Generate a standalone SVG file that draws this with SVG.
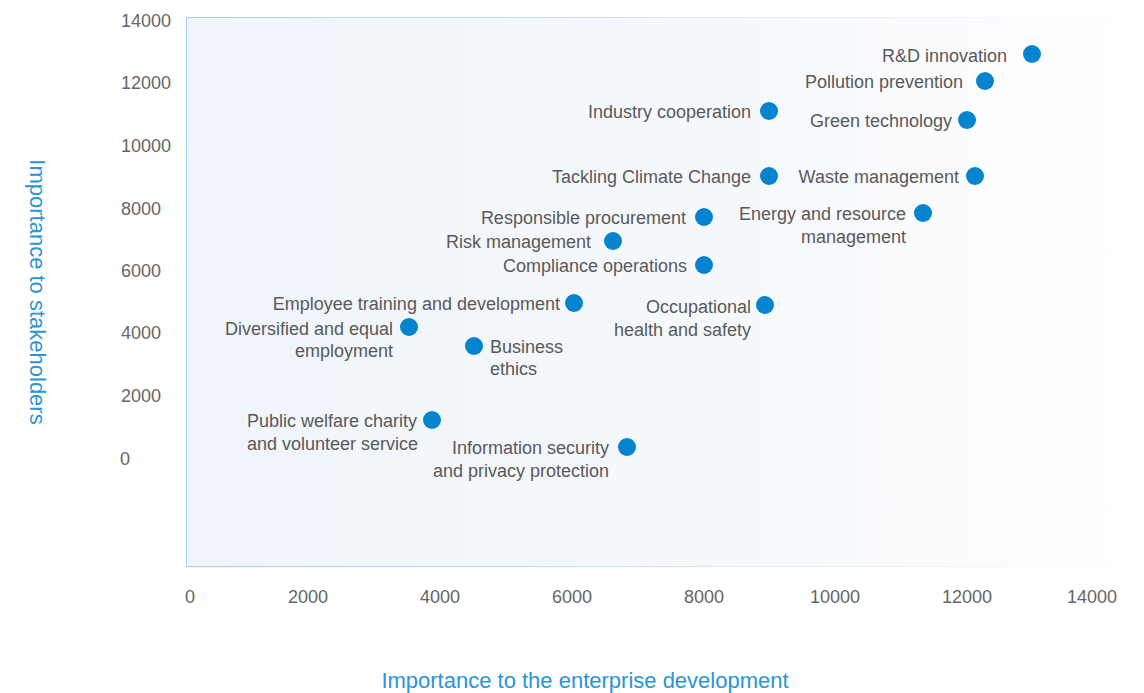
<svg xmlns="http://www.w3.org/2000/svg" width="1144" height="693" viewBox="0 0 1144 693">
<defs>
<linearGradient id="bg" x1="0" y1="0" x2="1" y2="0">
<stop offset="0" stop-color="#eff5fb"/>
<stop offset="0.6" stop-color="#f6f9fc"/>
<stop offset="1" stop-color="#ffffff"/>
</linearGradient>
<linearGradient id="edge" x1="0" y1="0" x2="1" y2="0">
<stop offset="0" stop-color="#a8d0ee"/>
<stop offset="1" stop-color="#ffffff"/>
</linearGradient>
</defs>
<style>
text{font-family:"Liberation Sans",Arial,sans-serif;}
.lbl{font-size:18px;fill:#595959;}
.tk{font-size:18px;fill:#666666;}
.ttl{font-size:22px;fill:#2b95d6;}
.dot{fill:#0484cf;}
.r{text-anchor:end;}
.m{text-anchor:middle;}
</style>
<g id="plot">
<rect x="186" y="17" width="958" height="550" fill="url(#bg)"/>
<rect x="186" y="17" width="958" height="1" fill="url(#edge)"/>
<rect x="186" y="566" width="958" height="1.2" fill="url(#edge)"/>
<line x1="186.5" y1="17" x2="186.5" y2="567" stroke="#a8d0ee" stroke-width="1"/>
</g>
<g id="y-ticks">
<text class="tk r" x="171" y="27">14000</text>
<text class="tk r" x="171" y="89">12000</text>
<text class="tk r" x="171" y="152">10000</text>
<text class="tk r" x="161" y="215">8000</text>
<text class="tk r" x="161" y="277">6000</text>
<text class="tk r" x="161" y="339">4000</text>
<text class="tk r" x="161" y="402">2000</text>
<text class="tk r" x="130" y="465">0</text>
</g>
<g id="x-ticks">
<text class="tk m" x="190" y="603">0</text>
<text class="tk m" x="308" y="603">2000</text>
<text class="tk m" x="440" y="603">4000</text>
<text class="tk m" x="572" y="603">6000</text>
<text class="tk m" x="704" y="603">8000</text>
<text class="tk m" x="835" y="603">10000</text>
<text class="tk m" x="967" y="603">12000</text>
<text class="tk m" x="1092" y="603">14000</text>
</g>
<g id="axis-titles">
<text class="ttl m" x="585" y="688">Importance to the enterprise development</text>
<text class="ttl m" transform="translate(30,292) rotate(90)">Importance to stakeholders</text>
</g>
<g id="n-rd"><circle class="dot" cx="1032" cy="54" r="9"/><text class="lbl r" x="1007" y="62">R&amp;D innovation</text></g>
<g id="n-pollution"><circle class="dot" cx="985" cy="81" r="9"/><text class="lbl r" x="963" y="88">Pollution prevention</text></g>
<g id="n-green"><circle class="dot" cx="967" cy="120" r="9"/><text class="lbl r" x="952" y="127">Green technology</text></g>
<g id="n-industry"><circle class="dot" cx="769" cy="111" r="9"/><text class="lbl r" x="751" y="118">Industry cooperation</text></g>
<g id="n-climate"><circle class="dot" cx="769" cy="176" r="9"/><text class="lbl r" x="751" y="183">Tackling Climate Change</text></g>
<g id="n-waste"><circle class="dot" cx="975" cy="176" r="9"/><text class="lbl r" x="959" y="183">Waste management</text></g>
<g id="n-energy"><circle class="dot" cx="923" cy="213" r="9"/><text class="lbl r" x="906" y="220">Energy and resource</text><text class="lbl r" x="906" y="243">management</text></g>
<g id="n-procurement"><circle class="dot" cx="704" cy="217" r="9"/><text class="lbl r" x="686" y="224">Responsible procurement</text></g>
<g id="n-risk"><circle class="dot" cx="613" cy="241" r="9"/><text class="lbl r" x="591" y="248">Risk management</text></g>
<g id="n-compliance"><circle class="dot" cx="704" cy="265" r="9"/><text class="lbl r" x="687" y="272">Compliance operations</text></g>
<g id="n-training"><circle class="dot" cx="574" cy="303" r="9"/><text class="lbl r" x="560" y="310">Employee training and development</text></g>
<g id="n-occupational"><circle class="dot" cx="765" cy="305" r="9"/><text class="lbl r" x="751" y="313">Occupational</text><text class="lbl r" x="751" y="336">health and safety</text></g>
<g id="n-diversified"><circle class="dot" cx="409" cy="327" r="9"/><text class="lbl r" x="393" y="335">Diversified and equal</text><text class="lbl r" x="393" y="357">employment</text></g>
<g id="n-ethics"><circle class="dot" cx="474" cy="346" r="9"/><text class="lbl" x="490" y="353">Business</text><text class="lbl" x="490" y="375">ethics</text></g>
<g id="n-welfare"><circle class="dot" cx="432" cy="420" r="9"/><text class="lbl" x="247" y="427">Public welfare charity</text><text class="lbl" x="247" y="450">and volunteer service</text></g>
<g id="n-infosec"><circle class="dot" cx="627" cy="447" r="9"/><text class="lbl r" x="609" y="454">Information security</text><text class="lbl r" x="609" y="477">and privacy protection</text></g>
<g id="connectors"></g>
</svg>
